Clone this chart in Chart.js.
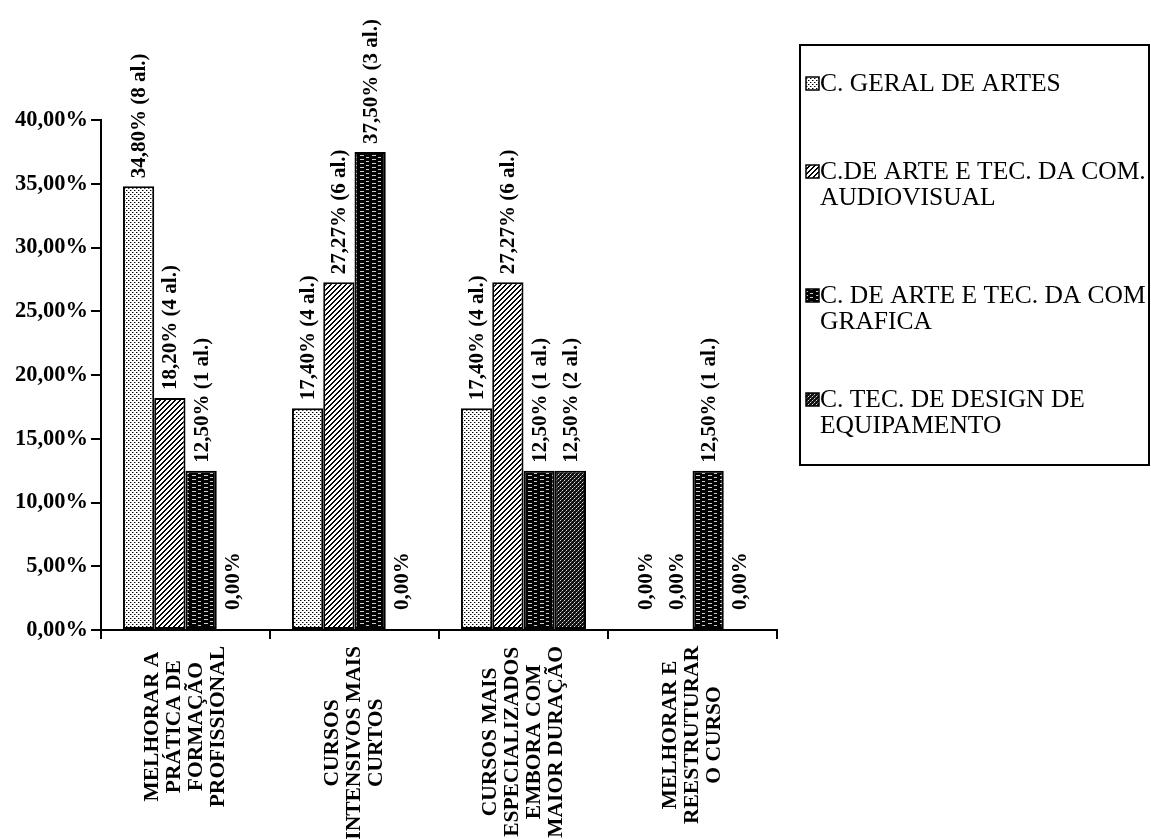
<!DOCTYPE html>
<html>
<head>
<meta charset="utf-8">
<script src="https://cdn.jsdelivr.net/npm/chart.js@4.4.1/dist/chart.umd.min.js"></script>
<style>
html,body{margin:0;padding:0;background:#fff}
</style>
</head>
<body>
<canvas id="chart" width="1151" height="839"></canvas>
<script>
// categorias (eixo x), uma linha por entrada
const categories=[
["MELHORAR A","PRÁTICA DE","FORMAÇÃO","PROFISSIONAL"],
["CURSOS","INTENSIVOS MAIS","CURTOS"],
["CURSOS MAIS","ESPECIALIZADOS","EMBORA COM","MAIOR DURAÇÃO"],
["MELHORAR E","REESTRUTURAR","O CURSO"]
]
// percentagens por curso
const geral=[34.80,17.40,17.40,0]
const audiovisual=[18.20,27.27,27.27,0]
const grafica=[12.50,37.50,12.50,12.50]
const design=[0,0,12.50,0]
// numero de alunos por barra
const geralN=[8,4,4,0]
const audiovisualN=[4,6,6,0]
const graficaN=[1,3,1,1]
const designN=[0,0,2,0]
const seriesNames=[
["C. GERAL DE ARTES"],
["C.DE ARTE E TEC. DA COM.","AUDIOVISUAL"],
["C. DE ARTE E TEC. DA COM","GRAFICA"],
["C. TEC. DE DESIGN DE","EQUIPAMENTO"]
]
const yTicks=[0,5,10,15,20,25,30,35,40]

const FONT="'Liberation Serif','Times New Roman',serif"

function tile(w,h,draw){
const c=document.createElement("canvas")
c.width=w;c.height=h
const g=c.getContext("2d")
draw(g)
return g.createPattern(c,"repeat")
}
// pontilhado claro
const patDots=tile(4,4,g=>{
g.fillStyle="#fff";g.fillRect(0,0,4,4)
g.fillStyle="#000";g.fillRect(0,0,1,1);g.fillRect(2,2,1,1)
g.fillStyle="#999";g.fillRect(1,0,1,1);g.fillRect(3,2,1,1)
})
// tracejado diagonal
const patHatch=tile(5,5,g=>{
g.fillStyle="#fff";g.fillRect(0,0,5,5)
g.fillStyle="#000"
for(let i=0;i<5;i++){g.fillRect(i,4-i,1,1);g.fillRect(i,(5-i)%5,1,1)}
})
// linhas horizontais escuras
const patLines=tile(12,4,g=>{
g.fillStyle="#000";g.fillRect(0,0,12,4)
g.fillStyle="#ccc";g.fillRect(0,3,4,1);g.fillRect(6,1,3,1)
})
// quadriculado escuro
const patCheck=tile(4,4,g=>{
g.fillStyle="#111";g.fillRect(0,0,4,4)
g.fillStyle="#ddd";g.fillRect(0,0,1,1);g.fillRect(2,2,1,1)
g.fillStyle="#666";g.fillRect(1,3,1,1);g.fillRect(3,1,1,1)
})
const patterns=[patDots,patHatch,patLines,patCheck]
const counts=[geralN,audiovisualN,graficaN,designN]

function pct(v){return v.toFixed(2).replace(".",",")+"%"}

const barLabels={
id:"barLabels",
afterDatasetsDraw(chart){
const ctx=chart.ctx
ctx.save()
ctx.font="bold 21px "+FONT
ctx.fillStyle="#000"
ctx.textAlign="left"
ctx.textBaseline="middle"
chart.data.datasets.forEach((ds,di)=>{
chart.getDatasetMeta(di).data.forEach((bar,i)=>{
const v=ds.data[i]
const n=counts[di][i]
const txt=pct(v)+(n?" ("+n+" al.)":"")
ctx.save()
ctx.translate(bar.x+1,bar.y-(v?8:20))
ctx.rotate(-Math.PI/2)
ctx.fillText(txt,0,0)
ctx.restore()
})
})
ctx.restore()
}
}

const xLabels={
id:"xLabels",
afterDraw(chart){
const ctx=chart.ctx
const xs=chart.scales.x
ctx.save()
ctx.font="bold 21.5px "+FONT
ctx.fillStyle="#000"
ctx.textAlign="center"
ctx.textBaseline="middle"
categories.forEach((lines,i)=>{
const cx=xs.getPixelForValue(i)
const w=Math.max(...lines.map(l=>ctx.measureText(l).width))
const cy=xs.top+16+w/2
lines.forEach((l,j)=>{
ctx.save()
ctx.translate(cx+(j-(lines.length-1)/2)*22,cy)
ctx.rotate(-Math.PI/2)
ctx.fillText(l,0,0)
ctx.restore()
})
})
ctx.restore()
}
}

const legendBox={
id:"legendBox",
afterDraw(chart){
const ctx=chart.ctx
const box={left:800,top:45,right:1149,bottom:465}
const rows=[[84],[172,198],[296,322],[400,426]]
ctx.save()
ctx.strokeStyle="#000"
ctx.lineWidth=2
ctx.strokeRect(box.left,box.top,box.right-box.left,box.bottom-box.top)
ctx.font="25.5px "+FONT
ctx.textAlign="left"
ctx.textBaseline="middle"
seriesNames.forEach((lines,i)=>{
const y0=rows[i][0]
ctx.fillStyle=patterns[i]
ctx.fillRect(806,y0-7,13,13)
ctx.lineWidth=1.5
ctx.strokeRect(806,y0-7,13,13)
ctx.fillStyle="#000"
lines.forEach((l,j)=>ctx.fillText(l,820,rows[i][j]))
})
ctx.restore()
}
}

const ctx=document.getElementById("chart")
const chart=new Chart(ctx,{
type:"bar",
data:{
labels:categories.map(c=>c.join(" ")),
datasets:[geral,audiovisual,grafica,design].map((d,i)=>({
label:seriesNames[i].join(" "),
data:d,
backgroundColor:patterns[i],
borderColor:"#000",
borderWidth:2,
borderSkipped:false,
categoryPercentage:0.74,
barPercentage:1
}))
},
options:{
responsive:false,
animation:false,
layout:{padding:{left:0,right:374,top:120,bottom:0}},
plugins:{legend:{display:false},tooltip:{enabled:false}},
scales:{
x:{
grid:{offset:true,drawOnChartArea:false,drawTicks:true,tickLength:9,color:"#000",lineWidth:2},
border:{color:"#000",width:2},
ticks:{display:false},
afterFit(scale){scale.height=209}
},
y:{
min:0,max:40,
grid:{drawOnChartArea:false,drawTicks:true,tickLength:10,color:"#000",lineWidth:2},
border:{color:"#000",width:2},
afterBuildTicks(scale){scale.ticks=yTicks.map(v=>({value:v}))},
ticks:{
color:"#000",
padding:3,
font:{family:FONT,size:22.5,weight:"bold"},
callback:v=>pct(v)
},
afterFit(scale){scale.width=101}
}
}
},
plugins:[barLabels,xLabels,legendBox]
})
</script>
</body>
</html>
